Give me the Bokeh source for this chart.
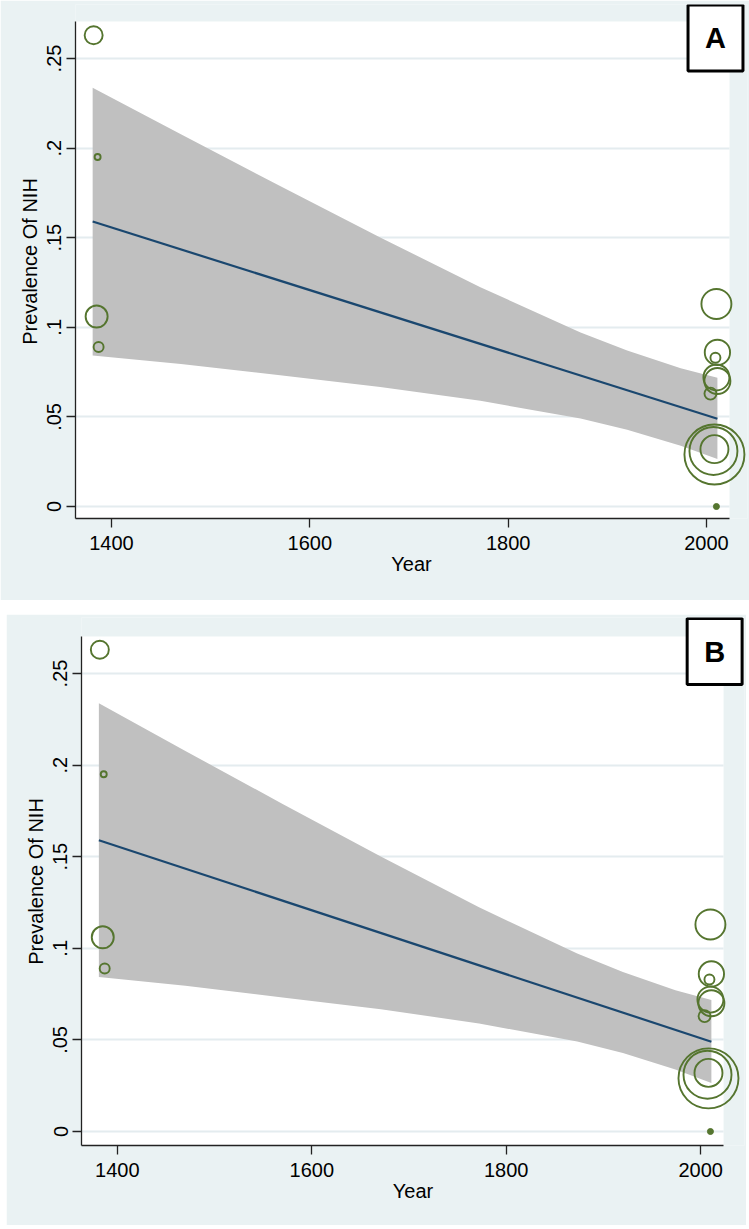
from bokeh.plotting import figure
from bokeh.layouts import column
from bokeh.models import FixedTicker, Range1d, Label
from bokeh.embed import file_html
from bokeh.resources import INLINE

# ---------------- data ----------------
study_year = [1382, 1386, 1385, 1387, 2010, 2011, 2009, 2011, 2010, 2004, 2008, 2007, 2008]
study_prev = [0.263, 0.195, 0.106, 0.089, 0.113, 0.086, 0.083, 0.070, 0.072, 0.063, 0.029, 0.031, 0.032]
study_weight = [81, 9, 121, 25, 225, 160, 25, 169, 169, 36, 900, 576, 196]

zero_year = [2010]
zero_prev = [0.0]

fit_year = [1381, 2011]
fit_prev = [0.159, 0.049]

band_year = [1381, 1470, 1570, 1671, 1772, 1873, 1920, 1974, 2011]
band_upper = [0.2337, 0.2077, 0.1788, 0.1501, 0.1224, 0.0971, 0.0870, 0.0771, 0.0718]
band_lower = [0.0843, 0.0795, 0.0732, 0.0667, 0.0590, 0.0491, 0.0428, 0.0339, 0.0265]

x_ticks = [1400, 1600, 1800, 2000]
y_ticks = [0, 0.05, 0.1, 0.15, 0.2, 0.25]
y_tick_labels = ["0", ".05", ".1", ".15", ".2", ".25"]

x_title = "Year"
y_title = "Prevalence Of NIH"
panel_letters = ["A", "B"]

# ---------------- style ----------------
BG = "#EAF2F3"
GRID = "#E4ECEF"
LINE = "#1A476F"
BAND = "#C0C0C0"
MARK = "#55752F"
FONT = "Liberation Sans"


def make_panel(letter, fig_left, fig_top, width, height, frame, xr, yr,
               plot_right, plot_top, box_center, margin):
    fx0, fx1, fy0, fy1 = frame
    p = figure(width=width, height=height,
               x_range=Range1d(*xr), y_range=Range1d(*yr),
               output_backend="svg", toolbar_location=None,
               min_border_left=fx0 - fig_left,
               min_border_right=fig_left + width - fx1,
               min_border_top=fy0 - fig_top,
               min_border_bottom=fig_top + height - fy1,
               margin=margin)
    p.background_fill_color = BG
    p.border_fill_color = BG
    p.outline_line_color = None

    # white plotting region (the frame is widened so the letter box fits)
    p.quad(left=[xr[0]], right=[plot_right], bottom=[yr[0]], top=[plot_top],
           fill_color="white", line_color=None, level="image")

    p.xgrid.visible = False
    g = p.ygrid[0]
    g.ticker = FixedTicker(ticks=y_ticks)
    g.grid_line_color = GRID
    g.grid_line_width = 2
    if "cross_bounds" in g.properties():
        g.cross_bounds = (xr[0], plot_right)

    for ax in (p.xaxis[0], p.yaxis[0]):
        ax.axis_line_color = "#222222"
        ax.axis_line_width = 1.3
        ax.major_tick_line_color = "#222222"
        ax.major_tick_line_width = 1.3
        ax.major_tick_in = 0
        ax.major_tick_out = 9
        ax.minor_tick_line_color = None
        ax.major_label_text_font = FONT
        ax.major_label_text_font_size = "20px"
        ax.major_label_text_color = "black"
        ax.axis_label_text_font = FONT
        ax.axis_label_text_font_size = "20px"
        ax.axis_label_text_font_style = "normal"
        ax.axis_label_text_color = "black"

    p.xaxis.ticker = FixedTicker(ticks=x_ticks)
    p.xaxis.bounds = (xr[0], plot_right)
    p.xaxis.axis_label = x_title
    p.xaxis.major_label_standoff = 8
    p.xaxis.axis_label_standoff = 0

    p.yaxis.ticker = FixedTicker(ticks=y_ticks)
    p.yaxis.bounds = (yr[0], plot_top)
    p.yaxis.major_label_overrides = {t: l for t, l in zip(y_ticks, y_tick_labels)}
    p.yaxis.major_label_orientation = "vertical"
    p.yaxis.axis_label = y_title
    p.yaxis.major_label_standoff = 5
    p.yaxis.axis_label_standoff = 4

    p.varea(x=band_year, y1=band_lower, y2=band_upper, fill_color=BAND, fill_alpha=1)
    p.line(fit_year, fit_prev, line_color=LINE, line_width=2.2)
    sizes = [2 * w ** 0.5 for w in study_weight]
    p.scatter(study_year, study_prev, size=sizes, fill_color=None,
              line_color=MARK, line_width=1.9)
    p.scatter(zero_year, zero_prev, size=6, fill_color=MARK, line_color=MARK)

    bx, by = box_center
    lx = xr[0] + (bx - fx0) / (fx1 - fx0) * (xr[1] - xr[0])
    ly = yr[1] - (by - fy0) / (fy1 - fy0) * (yr[1] - yr[0])
    lab = Label(x=lx, y=ly, text=letter, text_font=FONT, text_font_size="29px",
                text_font_style="bold", text_align="center", text_baseline="middle",
                text_color="black", background_fill_color="white",
                border_line_color="black", border_line_width=3, padding=17)
    p.add_layout(lab)
    return p


pa = make_panel(panel_letters[0], 0, 0, 749, 600, (75, 747, 4, 518),
                (1363.70, 2041.34), (-0.006696, 0.28013),
                2023.19, 0.27065, (715, 37.5), (0, 0, 0, 0))
pb = make_panel(panel_letters[1], 6, 614, 740, 611, (79, 745, 617, 1145),
                (1363.14, 2045.05), (-0.007642, 0.28057),
                2023.55, 0.27020, (715, 651), (0, 0, 0, 6))

layout = column(pa, pb, spacing=14)
open("out.html", "w").write(file_html(layout, INLINE))
